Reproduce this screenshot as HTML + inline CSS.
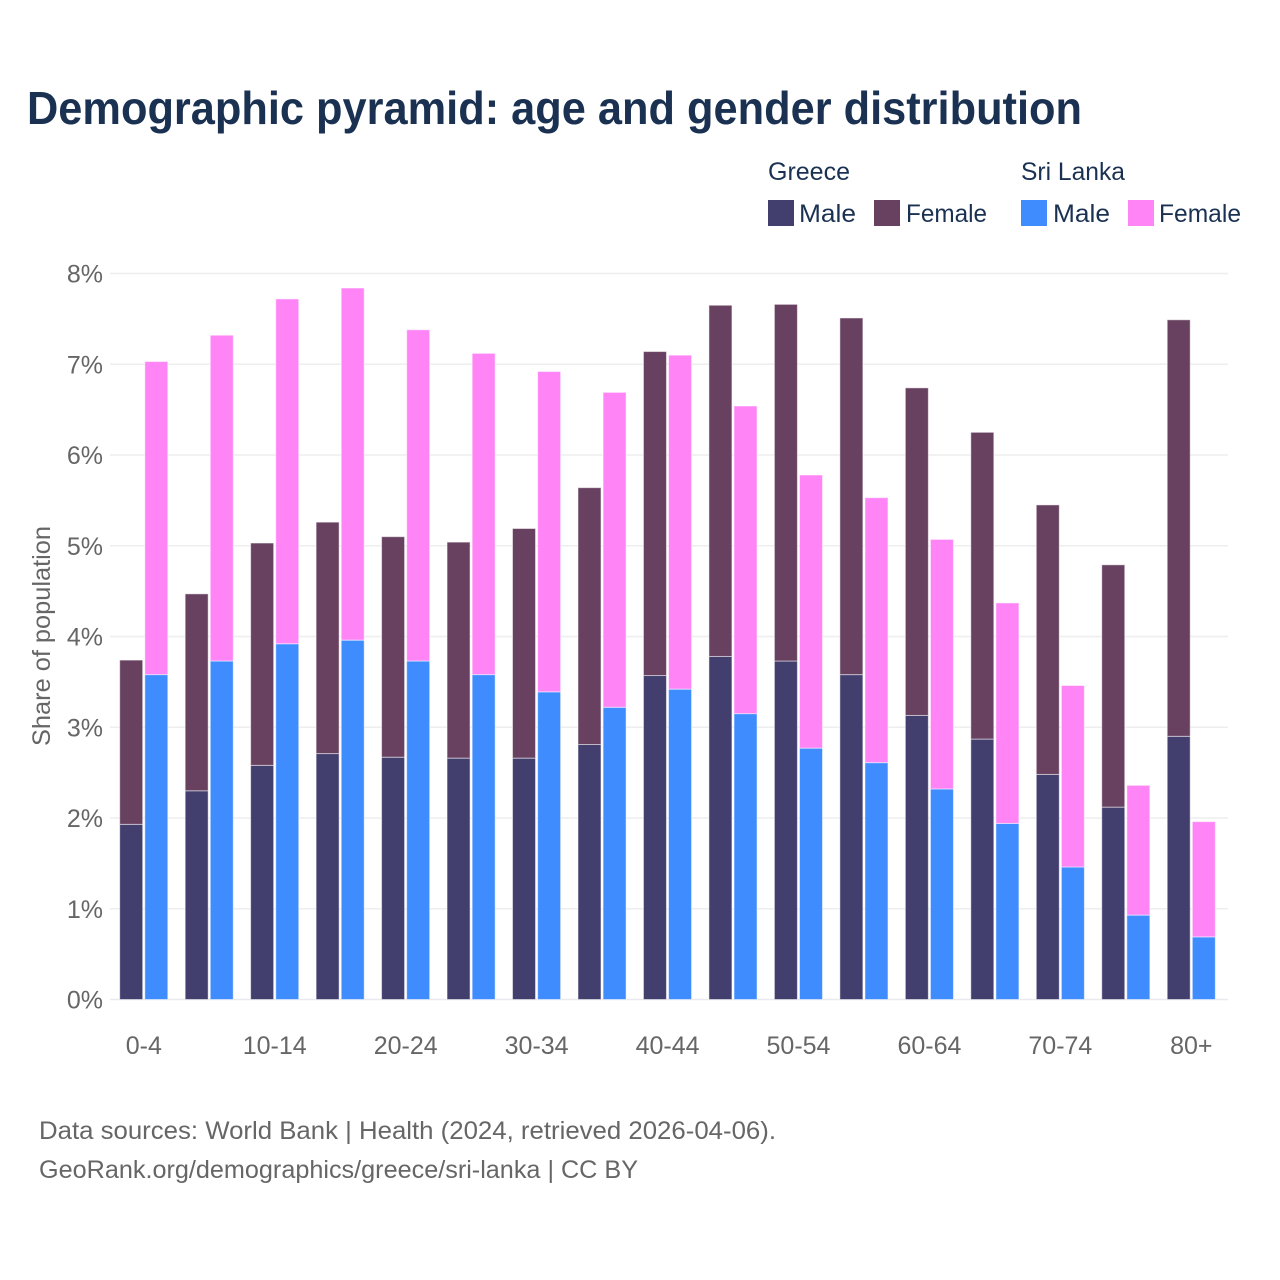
<!DOCTYPE html>
<html lang="en">
<head>
<meta charset="utf-8">
<title>Demographic pyramid: age and gender distribution</title>
<style>
html,body{margin:0;padding:0;background:#fff;width:1280px;height:1280px;overflow:hidden}
svg{display:block}
text{font-family:"Liberation Sans",sans-serif}
</style>
</head>
<body>
<svg id="chart" xmlns="http://www.w3.org/2000/svg" width="1280" height="1280" viewBox="0 0 1280 1280">
<rect x="0" y="0" width="1280" height="1280" fill="#ffffff"/>
<text x="27" y="124" font-size="46" font-weight="700" fill="#1a3152" textLength="1055" lengthAdjust="spacingAndGlyphs">Demographic pyramid: age and gender distribution</text>

<g font-size="25" fill="#1a3152">
<text x="768" y="180" textLength="82" lengthAdjust="spacingAndGlyphs">Greece</text>
<rect x="768" y="200" width="26" height="26" fill="#423f6f"/>
<text x="799" y="222" textLength="57" lengthAdjust="spacingAndGlyphs">Male</text>
<rect x="874" y="200" width="26" height="26" fill="#684160"/>
<text x="906" y="222" textLength="81" lengthAdjust="spacingAndGlyphs">Female</text>
<text x="1021" y="180" textLength="104" lengthAdjust="spacingAndGlyphs">Sri Lanka</text>
<rect x="1021" y="200" width="26" height="26" fill="#3f8cff"/>
<text x="1053" y="222" textLength="57" lengthAdjust="spacingAndGlyphs">Male</text>
<rect x="1128" y="200" width="26" height="26" fill="#ff85f7"/>
<text x="1159" y="222" textLength="82" lengthAdjust="spacingAndGlyphs">Female</text>
</g>

<g id="grid"></g>
<g id="y-ticks" font-size="25" fill="#666666" text-anchor="end"></g>
<g id="bars"></g>
<g id="x-ticks" font-size="25" fill="#666666" text-anchor="middle"></g>

<text transform="translate(50 636) rotate(-90)" text-anchor="middle" font-size="25" fill="#666666" textLength="220" lengthAdjust="spacingAndGlyphs">Share of population</text>

<text x="39" y="1139" font-size="25" fill="#666666" textLength="737" lengthAdjust="spacingAndGlyphs">Data sources: World Bank | Health (2024, retrieved 2026-04-06).</text>
<text x="39" y="1178" font-size="25" fill="#666666" textLength="599" lengthAdjust="spacingAndGlyphs">GeoRank.org/demographics/greece/sri-lanka | CC BY</text>
</svg>
<script>
const categories = ["0-4","5-9","10-14","15-19","20-24","25-29","30-34","35-39","40-44","45-49","50-54","55-59","60-64","65-69","70-74","75-79","80+"];
const greeceMale = [1.93,2.30,2.58,2.71,2.67,2.66,2.66,2.81,3.57,3.78,3.73,3.58,3.13,2.87,2.48,2.12,2.90];
const greeceFemale = [1.81,2.17,2.45,2.55,2.43,2.38,2.53,2.83,3.57,3.87,3.93,3.93,3.61,3.38,2.97,2.67,4.59];
const sriLankaMale = [3.58,3.73,3.92,3.96,3.73,3.58,3.39,3.22,3.42,3.15,2.77,2.61,2.32,1.94,1.46,0.93,0.69];
const sriLankaFemale = [3.45,3.59,3.80,3.88,3.65,3.54,3.53,3.47,3.68,3.39,3.01,2.92,2.75,2.43,2.00,1.43,1.27];
const yTickValues = [0,1,2,3,4,5,6,7,8];
const xTickLabels = ["0-4","10-14","20-24","30-34","40-44","50-54","60-64","70-74","80+"];

const NS = "http://www.w3.org/2000/svg";
const plotLeft = 110, plotRight = 1228;
function yScale(v){ return 999.5 - v * 90.75; }
function xCenter(i){ return 143.8 + i * 65.47; }

const gridGroup = document.getElementById("grid");
const yTickGroup = document.getElementById("y-ticks");
yTickValues.forEach(function(v){
  const line = document.createElementNS(NS, "line");
  
  
  line.setAttribute("x1", plotLeft);
  line.setAttribute("x2", plotRight);
  line.setAttribute("y1", yScale(v));
  line.setAttribute("y2", yScale(v));
  line.setAttribute("stroke", v === 0 ? "#e9e9ef" : "#eeeeee");
  line.setAttribute("stroke-width", 1.5);
  gridGroup.appendChild(line);
  const label = document.createElementNS(NS, "text");
  
  
  label.setAttribute("x", 103);
  label.setAttribute("y", yScale(v) + 9);
  label.textContent = v + "%";
  yTickGroup.appendChild(label);
});

const barGroup = document.getElementById("bars");
function drawSegment(x, base, value, color, name){
  const r = document.createElementNS(NS, "rect");
  
  
  r.setAttribute("x", x);
  r.setAttribute("y", yScale(base + value));
  r.setAttribute("width", 23);
  r.setAttribute("height", yScale(base) - yScale(base + value));
  r.setAttribute("fill", color);
  r.setAttribute("stroke", "#ffffff");
  r.setAttribute("stroke-opacity", "0.5");
  r.setAttribute("stroke-width", 1);
  barGroup.appendChild(r);
}
categories.forEach(function(c, i){
  const g = xCenter(i) - 24.1;
  const s = xCenter(i) + 1;
  drawSegment(g, 0, greeceMale[i], "#423f6f", "bar-greece-male");
  drawSegment(g, greeceMale[i], greeceFemale[i], "#684160", "bar-greece-female");
  drawSegment(s, 0, sriLankaMale[i], "#3f8cff", "bar-sri-lanka-male");
  drawSegment(s, sriLankaMale[i], sriLankaFemale[i], "#ff85f7", "bar-sri-lanka-female");
});

const xTickGroup = document.getElementById("x-ticks");
xTickLabels.forEach(function(lab){
  const t = document.createElementNS(NS, "text");
  
  
  t.setAttribute("x", xCenter(categories.indexOf(lab)));
  t.setAttribute("y", 1054);
  t.textContent = lab;
  xTickGroup.appendChild(t);
});
</script>
</body>
</html>
